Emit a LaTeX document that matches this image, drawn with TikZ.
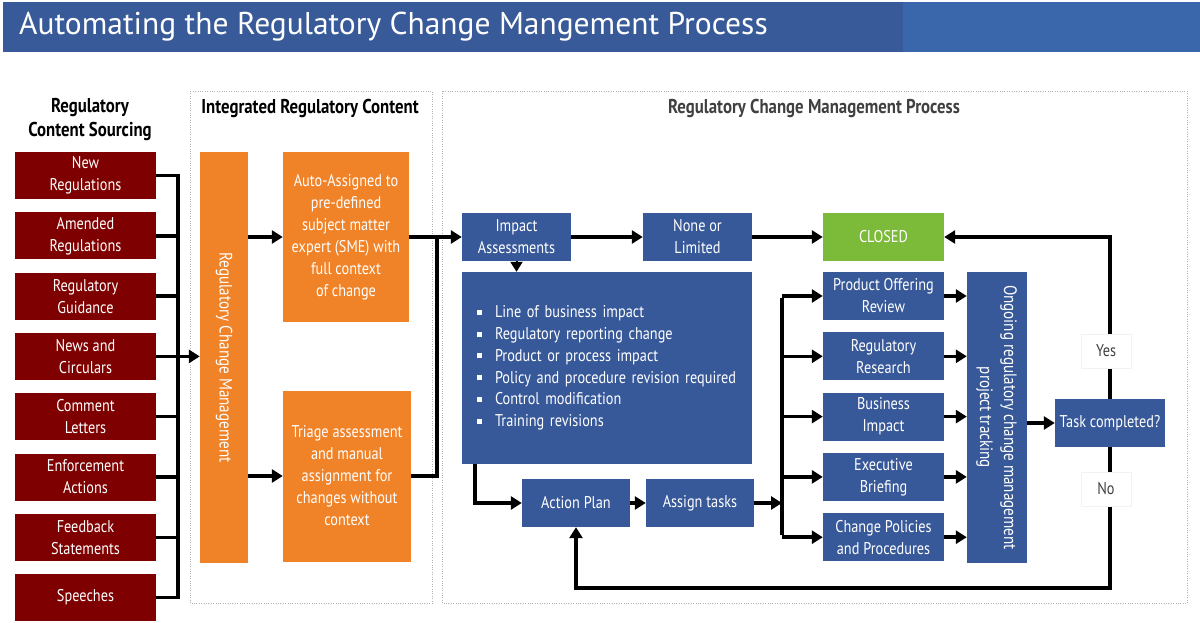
\documentclass[tikz,border=0pt]{standalone}
\usepackage{fontspec}
\setmainfont[FakeStretch=0.84]{PT Sans}
\newfontfamily\titlefont{PT Sans}
\usetikzlibrary{arrows.meta}

\definecolor{titledark}{RGB}{57,90,152}
\definecolor{titlelight}{RGB}{58,102,172}
\definecolor{srcred}{RGB}{127,0,0}
\definecolor{rcmorange}{RGB}{240,130,40}
\definecolor{procblue}{RGB}{56,89,153}
\definecolor{closedgreen}{RGB}{124,186,58}
\definecolor{headgray}{RGB}{64,64,64}

\tikzset{
  box/.style={fill=#1, text=white, inner sep=0pt, align=center,
    font=\fontsize{17}{22}\selectfont},
  srcbox/.style={box=srcred, minimum width=141pt, minimum height=47pt},
  bluebox/.style={box=procblue, minimum width=109pt, minimum height=48pt},
  sidebox/.style={box=procblue, minimum width=121pt, minimum height=48pt},
  head/.style={font=\fontsize{20}{24}\selectfont\bfseries, align=center},
  frame/.style={draw=gray!60, dotted, thin},
  conn/.style={line width=3.5pt},
  arr/.style={conn, -{Triangle[length=11pt,width=13pt]}},
  lbl/.style={fill=white, draw=gray!10, minimum width=50pt, minimum height=34pt,
    font=\fontsize{17}{22}\selectfont, text=headgray}
}

\begin{document}
\begin{tikzpicture}[x=1pt,y=-1pt]
\useasboundingbox (0,0) rectangle (1200,623);

% title bar
\fill[titledark] (3,2) rectangle (903,52);
\fill[titlelight] (903,2) rectangle (1200,52);
\node[anchor=west, text=white, font=\titlefont\fontsize{31.5}{31.5}\selectfont, inner sep=0pt] (title) at (19,27)
  {Automating the Regulatory Change Mangement Process};

% frames and headers
\draw[frame] (190,91) rectangle (432,603);
\draw[frame] (442,91) rectangle (1187,603);
\node[head] (h1) at (90,120) {Regulatory\\Content Sourcing};
\node[head] (h2) at (310,108) {Integrated Regulatory Content};
\node[head, text=headgray] (h3) at (814,108) {Regulatory Change Management Process};

% sources
\coordinate (sbus) at (178,0);
\foreach \t [count=\i] in {{New\\Regulations},{Amended\\Regulations},{Regulatory\\Guidance},
    {News and\\Circulars},{Comment\\Letters},{Enforcement\\Actions},{Feedback\\Statements},{Speeches}}
  \node[srcbox] (s\i) at (85.5,{175.5+(\i-1)*60.3}) {\t};
\foreach \i in {1,...,8}
  \draw[conn] (s\i.east) -- (s\i.east -| sbus);
\draw[conn] ([yshift=1.75pt]s1.east -| sbus) -- ([yshift=-1.75pt]s8.east -| sbus);

% integrated content
\node[box=rcmorange, minimum width=48pt, minimum height=411pt, font=\fontsize{18}{22}\selectfont] (rcm) at (224,357.5)
  {\rotatebox{-90}{Regulatory Change Management}};
\draw[arr] (s4.east) -- (s4.east -| rcm.west);
\node[box=rcmorange, minimum width=126pt, minimum height=170pt] (auto) at (346,237)
  {Auto-Assigned to\\pre-defined\\subject matter\\expert (SME) with\\full context\\of change};
\node[box=rcmorange, minimum width=128pt, minimum height=171pt] (triage) at (347,476)
  {Triage assessment\\and manual\\assignment for\\changes without\\context};
\draw[arr] (rcm.east |- auto.west) -- (auto.west);
\draw[arr] (rcm.east |- triage.west) -- (triage.west);

% process
\node[bluebox] (ia) at (516.5,237) {Impact\\Assessments};
\node[bluebox] (none) at (697.5,237) {None or\\Limited};
\node[sidebox, fill=closedgreen] (closed) at (883.5,237) {CLOSED};
\coordinate (join) at (437,237);
\draw[conn] (auto.east) -- (join);
\draw[conn] (triage.east) -| ([yshift=-1.75pt]join);
\draw[arr] (join) -- (ia.west);
\draw[arr] (ia.east) -- (none.west);
\draw[arr] (none.east) -- (closed.west);

\node[box=procblue, minimum width=290pt, minimum height=192pt, text width=260pt, align=left,
  font=\fontsize{17}{21.8}\selectfont] (list) at (607,368) {%
  \raisebox{3pt}{\rule{5pt}{5pt}}\hspace{13pt}Line of business impact\\
  \raisebox{3pt}{\rule{5pt}{5pt}}\hspace{13pt}Regulatory reporting change\\
  \raisebox{3pt}{\rule{5pt}{5pt}}\hspace{13pt}Product or process impact\\
  \raisebox{3pt}{\rule{5pt}{5pt}}\hspace{13pt}Policy and procedure revision required\\
  \raisebox{3pt}{\rule{5pt}{5pt}}\hspace{13pt}Control modification\\
  \raisebox{3pt}{\rule{5pt}{5pt}}\hspace{13pt}Training revisions};
\draw[-{Triangle[length=10pt,width=12pt]}, line width=2pt] (ia.south) -- (ia.south |- list.north);

\node[bluebox, minimum width=108pt] (plan) at (576,503) {Action Plan};
\node[bluebox, minimum width=108pt] (tasks) at (700,503) {Assign tasks};
\draw[arr] ([xshift=13pt]list.south west) |- (plan.west);
\draw[arr] (plan.east) -- (tasks.west);

% task branches
\coordinate (tbus) at (782,0);
\foreach \t [count=\i] in {{Product Offering\\Review},{Regulatory\\Research},{Business\\Impact},
    {Executive\\Briefing},{Change Policies\\and Procedures}}
  \node[sidebox] (r\i) at (883.5,{296+(\i-1)*60.3}) {\t};
\draw[arr] (tasks.east) -- (tasks.east -| tbus);
\draw[conn] ([yshift=-1.75pt]r1.west -| tbus) -- ([yshift=1.75pt]r5.west -| tbus);
\foreach \i in {1,...,5}
  \draw[arr] (r\i.west -| tbus) -- (r\i.west);

\node[box=procblue, minimum width=60pt, minimum height=291pt, font=\fontsize{18}{24}\selectfont] (track) at (997,417.5)
  {\rotatebox{-90}{\begin{tabular}{@{}c@{}}Ongoing regulatory change management\\project tracking\end{tabular}}};
\foreach \i in {1,...,5}
  \draw[arr] (r\i.east) -- (r\i.east -| track.west);

\node[bluebox, minimum width=110pt] (done) at (1110,423) {Task completed?};
\draw[arr] (track.east |- done.west) -- (done.west);

% yes / no loops
\coordinate (back) at (1110,588);
\draw[arr] (done.north) |- (closed.east);
\draw[arr] (done.south) -- (back) -| (plan.south);
\node[lbl] (yes) at (1106,351) {Yes};
\node[lbl] (no) at (1106,489) {No};
\end{tikzpicture}
\end{document}
